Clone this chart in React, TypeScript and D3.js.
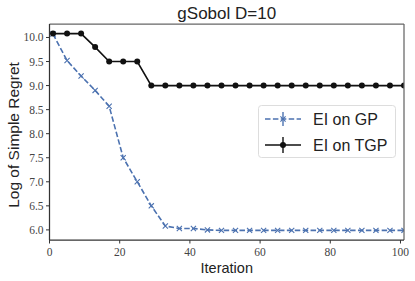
import React from "react";
import * as d3 from "d3";

const iterations = [1, 5, 9, 13, 17, 21, 25, 29, 33, 37, 41, 45, 49, 53, 57, 61, 65, 69, 73, 77, 81, 85, 89, 93, 97, 101];
const gpValues = [10.07, 9.52, 9.2, 8.9, 8.57, 7.5, 7.0, 6.5, 6.08, 6.03, 6.03, 6.0, 5.99, 5.99, 5.99, 5.99, 5.99, 5.99, 5.99, 5.99, 5.99, 5.99, 5.99, 5.99, 5.99, 5.99];
const tgpValues = [10.08, 10.08, 10.08, 9.8, 9.5, 9.5, 9.5, 9.0, 9.0, 9.0, 9.0, 9.0, 9.0, 9.0, 9.0, 9.0, 9.0, 9.0, 9.0, 9.0, 9.0, 9.0, 9.0, 9.0, 9.0, 9.0];
const xTicks = [0, 20, 40, 60, 80, 100];
const yTicks = [6.0, 6.5, 7.0, 7.5, 8.0, 8.5, 9.0, 9.5, 10.0];
const seriesNames = ["EI on GP", "EI on TGP"];
const title = "gSobol D=10";
const xLabel = "Iteration";
const yLabel = "Log of Simple Regret";

const W = 415, H = 281;
const L = 49.5, R = 404, T = 24, B = 240;
const BLUE = "#4C72B0";
const SANS = "'Liberation Sans', Arial, sans-serif";
const SERIF = "'Liberation Serif', 'DejaVu Serif', serif";

export default function App() {
  const x = d3.scaleLinear().domain([0, 101]).range([L, R]);
  const y = d3.scaleLinear().domain([5.79, 10.28]).range([B, T]);
  const gpPts = iterations.map((it, i) => [x(it), y(gpValues[i])] as [number, number]);
  const tgpPts = iterations.map((it, i) => [x(it), y(tgpValues[i])] as [number, number]);
  const line = d3.line();
  const ms = 2.6;
  return (
    <svg width={W} height={H} style={{ position: "absolute", left: 0, top: 0 }}>
      <rect x={0} y={0} width={W} height={H} fill="#fff" />
      <defs>
        <clipPath id="plotclip">
          <rect x={L} y={T} width={R - L} height={B - T} />
        </clipPath>
      </defs>
      <g clipPath="url(#plotclip)">
        <path d={line(gpPts) || ""} fill="none" stroke={BLUE} strokeWidth={1.6} strokeDasharray="5.5,2.4" />
        {gpPts.map((p, i) => (
          <path key={"g" + i} d={`M${p[0] - ms},${p[1] - ms}L${p[0] + ms},${p[1] + ms}M${p[0] - ms},${p[1] + ms}L${p[0] + ms},${p[1] - ms}`} stroke={BLUE} strokeWidth={1.1} fill="none" />
        ))}
        <path d={line(tgpPts) || ""} fill="none" stroke="#111" strokeWidth={1.6} />
        {tgpPts.map((p, i) => (
          <circle key={"t" + i} cx={p[0]} cy={p[1]} r={3} fill="#111" />
        ))}
      </g>
      {/* spines */}
      <line x1={L} y1={T} x2={R} y2={T} stroke="#666" strokeWidth={1.25} />
      <line x1={R} y1={T} x2={R} y2={B} stroke="#666" strokeWidth={1.25} />
      <line x1={L} y1={T} x2={L} y2={B} stroke="#333" strokeWidth={1.25} />
      <line x1={L} y1={B} x2={R} y2={B} stroke="#333" strokeWidth={1.25} />
      {/* x ticks */}
      {xTicks.map((t) => (
        <g key={"xt" + t}>
          <line x1={x(t)} x2={x(t)} y1={B} y2={B + 3.5} stroke="#333" strokeWidth={1} />
          <text x={x(t)} y={B + 16} textAnchor="middle" fontFamily={SERIF} fontSize={11.5} fill="#444">{t}</text>
        </g>
      ))}
      {yTicks.map((t) => (
        <g key={"yt" + t}>
          <line x1={L - 3.5} x2={L} y1={y(t)} y2={y(t)} stroke="#333" strokeWidth={1} />
          <text x={L - 6} y={y(t)} dy="0.35em" textAnchor="end" fontFamily={SERIF} fontSize={11.5} fill="#444">{t.toFixed(1)}</text>
        </g>
      ))}
      <text x={(L + R) / 2} y={19} textAnchor="middle" fontFamily={SANS} fontSize={17} fill="#222">{title}</text>
      <text x={(L + R) / 2} y={273} textAnchor="middle" fontFamily={SANS} fontSize={14.5} fill="#222">{xLabel}</text>
      <text transform={`translate(19,${(T + B) / 2 + 3}) rotate(-90)`} textAnchor="middle" fontFamily={SANS} fontSize={15.5} fill="#222">{yLabel}</text>
      {/* legend */}
      <rect x={258.5} y={105.5} width={137} height={52} rx={3} fill="#fff" fillOpacity={0.85} stroke="#ddd" strokeWidth={1} />
      <g>
        <line x1={265} x2={301} y1={119} y2={119} stroke={BLUE} strokeWidth={1.6} strokeDasharray="5.5,2.4" />
        <line x1={283} x2={283} y1={112} y2={126} stroke={BLUE} strokeWidth={1.4} />
        <path d={`M${283 - ms},${119 - ms}L${283 + ms},${119 + ms}M${283 - ms},${119 + ms}L${283 + ms},${119 - ms}`} stroke={BLUE} strokeWidth={1.1} />
        <text x={313} y={119} dy="0.35em" fontFamily={SANS} fontSize={16} fill="#222">{seriesNames[0]}</text>
        <line x1={265} x2={301} y1={145} y2={145} stroke="#111" strokeWidth={1.6} />
        <line x1={283} x2={283} y1={137} y2={153} stroke="#111" strokeWidth={1.4} />
        <circle cx={283} cy={145} r={3} fill="#111" />
        <text x={313} y={145} dy="0.35em" fontFamily={SANS} fontSize={16} fill="#222">{seriesNames[1]}</text>
      </g>
    </svg>
  );
}
